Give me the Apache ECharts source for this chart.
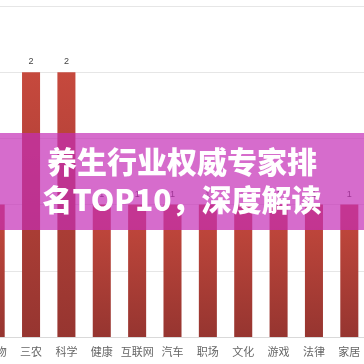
<!DOCTYPE html>
<html><head><meta charset="utf-8">
<script src="https://cdn.jsdelivr.net/npm/echarts@6/dist/echarts.min.js"></script>
<style>html,body{margin:0;padding:0;background:#fff;overflow:hidden}#wrap{position:relative;width:364px;height:364px;overflow:hidden}#c{position:absolute;left:-22px;top:0;width:389px;height:364px}</style>
</head><body><div id="wrap"><div id="c"></div></div>
<script>
var categories = ['宠物','三农','科学','健康','互联网','汽车','职场','文化','游戏','法律','家居'];
var values = [1,2,2,1,1,1,1,1,1,1,1];
var titleLines = ['养生行业权威专家排','名TOP10，深度解读'];
var chart = echarts.init(document.getElementById('c'));
chart.setOption({
  animation:false,
  grid:{left:0,right:0,top:6,bottom:27,containLabel:false},
  xAxis:{type:'category',data:categories,
    axisLine:{lineStyle:{color:'#d9d9d9'}},axisTick:{show:false},
    axisLabel:{color:'#666',fontSize:11,margin:9,fontFamily:'Noto Sans CJK SC',interval:0}},
  yAxis:{type:'value',min:0,max:2.5,interval:0.5,axisLabel:{show:false},axisLine:{show:false},axisTick:{show:false},
    splitLine:{lineStyle:{color:'#e6e6e6'}}},
  series:[{type:'bar',data:values,barWidth:'51%',
    itemStyle:{color:new echarts.graphic.LinearGradient(0,0,0,1,[{offset:0,color:'#c6493d'},{offset:1,color:'#963530'}])},
    label:{show:true,position:'top',color:'#444',fontSize:9,distance:6}}],
  graphic:[
    {type:'rect',left:22,top:133,shape:{width:364,height:97},style:{fill:'rgba(196,45,182,0.7)'},z:100},
    {type:'text',x:204,y:147,style:{text:titleLines[0],fill:'#fff',align:'center',font:'900 30px "Noto Sans CJK SC"'},z:101},
    {type:'text',x:204,y:185,style:{text:titleLines[1],fill:'#fff',align:'center',font:'900 30px "Noto Sans CJK SC"'},z:101}
  ]
});
</script></body></html>
